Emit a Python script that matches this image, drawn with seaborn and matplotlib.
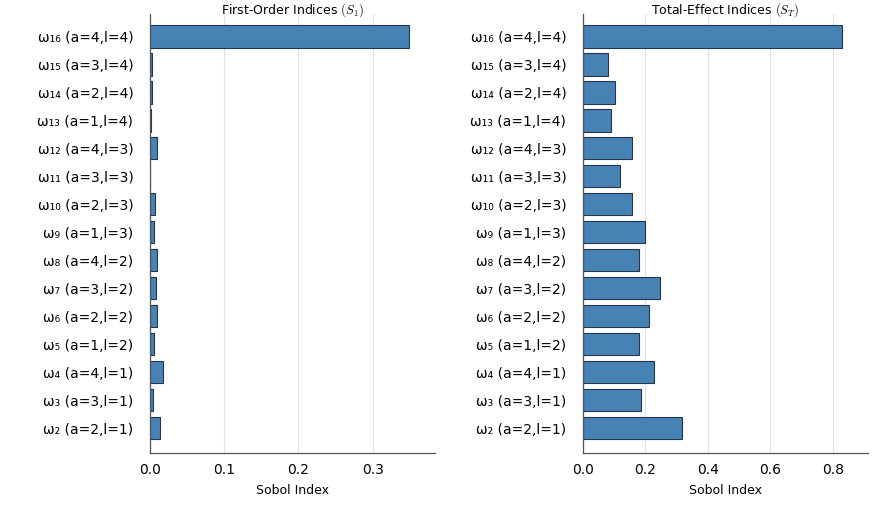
import matplotlib
matplotlib.use("Agg")
import matplotlib.pyplot as plt
import seaborn as sns
import pandas as pd

# parameter labels, top to bottom
labels = [
    "ω₁₆ (a=4,l=4)", "ω₁₅ (a=3,l=4)", "ω₁₄ (a=2,l=4)", "ω₁₃ (a=1,l=4)",
    "ω₁₂ (a=4,l=3)", "ω₁₁ (a=3,l=3)", "ω₁₀ (a=2,l=3)", "ω₉ (a=1,l=3)",
    "ω₈ (a=4,l=2)", "ω₇ (a=3,l=2)", "ω₆ (a=2,l=2)", "ω₅ (a=1,l=2)",
    "ω₄ (a=4,l=1)", "ω₃ (a=3,l=1)", "ω₂ (a=2,l=1)",
]

# first-order Sobol indices
s1 = [0.349, 0.0022, 0.0031, 0.0018, 0.009, 0.0004, 0.0067, 0.0058,
      0.009, 0.0085, 0.0094, 0.0049, 0.018, 0.0036, 0.013]

# total-effect Sobol indices
st = [0.830, 0.079, 0.104, 0.089, 0.156, 0.118, 0.156, 0.199,
      0.180, 0.246, 0.211, 0.178, 0.229, 0.186, 0.317]

df = pd.DataFrame({"param": labels, "S1": s1, "ST": st})

sns.set_style("white")
plt.rcParams["font.family"] = ["DejaVu Sans"]
plt.rcParams["mathtext.fontset"] = "cm"
plt.rcParams["text.color"] = "black"

fig = plt.figure(figsize=(8.72, 5.09), dpi=100)
ax1 = fig.add_axes([0.172, 0.110, 0.3268, 0.8625])
ax2 = fig.add_axes([0.6686, 0.110, 0.3268, 0.8625])

panels = [
    (ax1, "S1", "First-Order Indices $(S_1)$", [0.0, 0.1, 0.2, 0.3]),
    (ax2, "ST", "Total-Effect Indices $(S_T)$", [0.0, 0.2, 0.4, 0.6, 0.8]),
]

for ax, col, title, ticks in panels:
    sns.barplot(data=df, x=col, y="param", color="steelblue", saturation=1,
                edgecolor="#22364d", linewidth=0.8, width=0.8, ax=ax)
    ax.set_xlim(0, df[col].max() * 1.1)
    ax.set_ylim(len(labels) - 1 + 0.89, -0.80)
    ax.set_xticks(ticks)
    ax.set_xticklabels([f"{t:.1f}" for t in ticks])
    ax.grid(axis="x", color="#e3e3e3", linewidth=0.9)
    ax.set_axisbelow(True)
    ax.set_title(title, fontsize=9, pad=0.5, color="black")
    ax.set_xlabel("Sobol Index", fontsize=9, labelpad=5, color="black")
    ax.set_ylabel("")
    ax.tick_params(axis="both", length=0, colors="black")
    ax.tick_params(axis="x", pad=7, labelsize=10)
    ax.tick_params(axis="y", pad=12, labelsize=10)
    for side in ["top", "right"]:
        ax.spines[side].set_visible(False)
    for side in ["left", "bottom"]:
        ax.spines[side].set_color("#555555")
        ax.spines[side].set_linewidth(0.9)

fig.savefig("out.png", dpi=100)
